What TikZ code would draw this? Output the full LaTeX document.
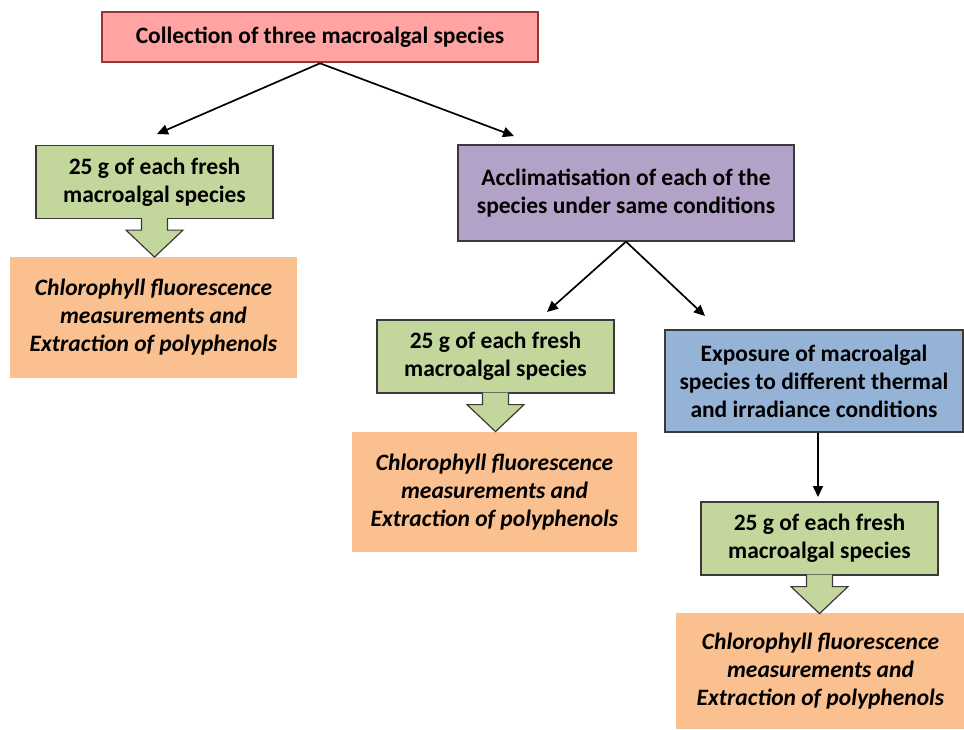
\documentclass[tikz,border=0pt]{standalone}
\usepackage{fontspec}
\setmainfont{Carlito}
\usetikzlibrary{arrows.meta,calc}
\definecolor{redfill}{HTML}{FFA3A3}
\definecolor{redline}{HTML}{953735}
\definecolor{greenfill}{HTML}{C3D69B}
\definecolor{purplefill}{HTML}{B3A2C7}
\definecolor{bluefill}{HTML}{95B3D7}
\definecolor{orangefill}{HTML}{FAC090}
\definecolor{boxline}{HTML}{3A3A3A}
\begin{document}
\begin{tikzpicture}[x=1pt,y=-1pt,
  box/.style={draw=boxline, line width=1.2pt, align=center, inner sep=0pt,
    font=\fontsize{23.5}{28}\selectfont\bfseries},
  redbox/.style={box, draw=redline, line width=2.6pt, fill=redfill},
  greenbox/.style={box, fill=greenfill, minimum width=237pt, minimum height=73pt},
  purplebox/.style={box, fill=purplefill},
  bluebox/.style={box, fill=bluefill},
  orangebox/.style={align=center, inner sep=0pt, fill=orangefill,
    font=\fontsize{23.5}{28}\selectfont\bfseries\itshape},
  conn/.style={draw=black, line width=1.7pt, -{Triangle[length=11pt,width=10pt]}},
  blockarrow/.style={fill=greenfill, draw=boxline, line width=1.2pt}
]
\useasboundingbox[fill=white] (0,0) rectangle (964,729);

\node[redbox, minimum width=436pt, minimum height=50pt] (red) at (320,37)
  {Collection of three macroalgal species};

\node[greenbox] (g1) at (154.5,182) {25 g of each fresh\\macroalgal species};
\node[orangebox, minimum width=287pt, minimum height=121pt] (o1) at (153.5,317.5)
  {Chlorophyll fluorescence\\measurements and\\Extraction of polyphenols};

\node[purplebox, minimum width=336pt, minimum height=96pt] (pu) at (626,193)
  {Acclimatisation of each of the\\species under same conditions};

\node[greenbox] (g2) at (495.5,356.5) {25 g of each fresh\\macroalgal species};
\node[orangebox, minimum width=285pt, minimum height=120pt] (o2) at (494.5,492)
  {Chlorophyll fluorescence\\measurements and\\Extraction of polyphenols};

\node[bluebox, minimum width=298pt, minimum height=102pt] (bl) at (814,381)
  {Exposure of macroalgal\\species to different thermal\\and irradiance conditions};

\node[greenbox] (g3) at (819.5,538.5) {25 g of each fresh\\macroalgal species};
\node[orangebox, minimum width=289pt, minimum height=116pt] (o3) at (820.5,671)
  {Chlorophyll fluorescence\\measurements and\\Extraction of polyphenols};

% free ends of connectors
\coordinate (a1) at (157,134);
\coordinate (a2) at (514,136);
\coordinate (a3) at (547,312);
\coordinate (a4) at (705,316);
\coordinate (a5) at (818,497);

\draw[conn] (red.south) -- (a1);
\draw[conn] (red.south) -- (a2);
\draw[conn] (pu.south) -- (a3);
\draw[conn] (pu.south) -- (a4);
\draw[conn] (bl.south -| a5) -- (a5);

% block arrows
\foreach \g in {g1,g2,g3} {
  \filldraw[blockarrow]
    ($(\g.south)+(-13,-1)$) -- ($(\g.south)+(-13,11)$) -- ($(\g.south)+(-28.5,11)$)
    -- ($(\g.south)+(0,38)$) -- ($(\g.south)+(28.5,11)$) -- ($(\g.south)+(13,11)$)
    -- ($(\g.south)+(13,-1)$);
}
\end{tikzpicture}
\end{document}
